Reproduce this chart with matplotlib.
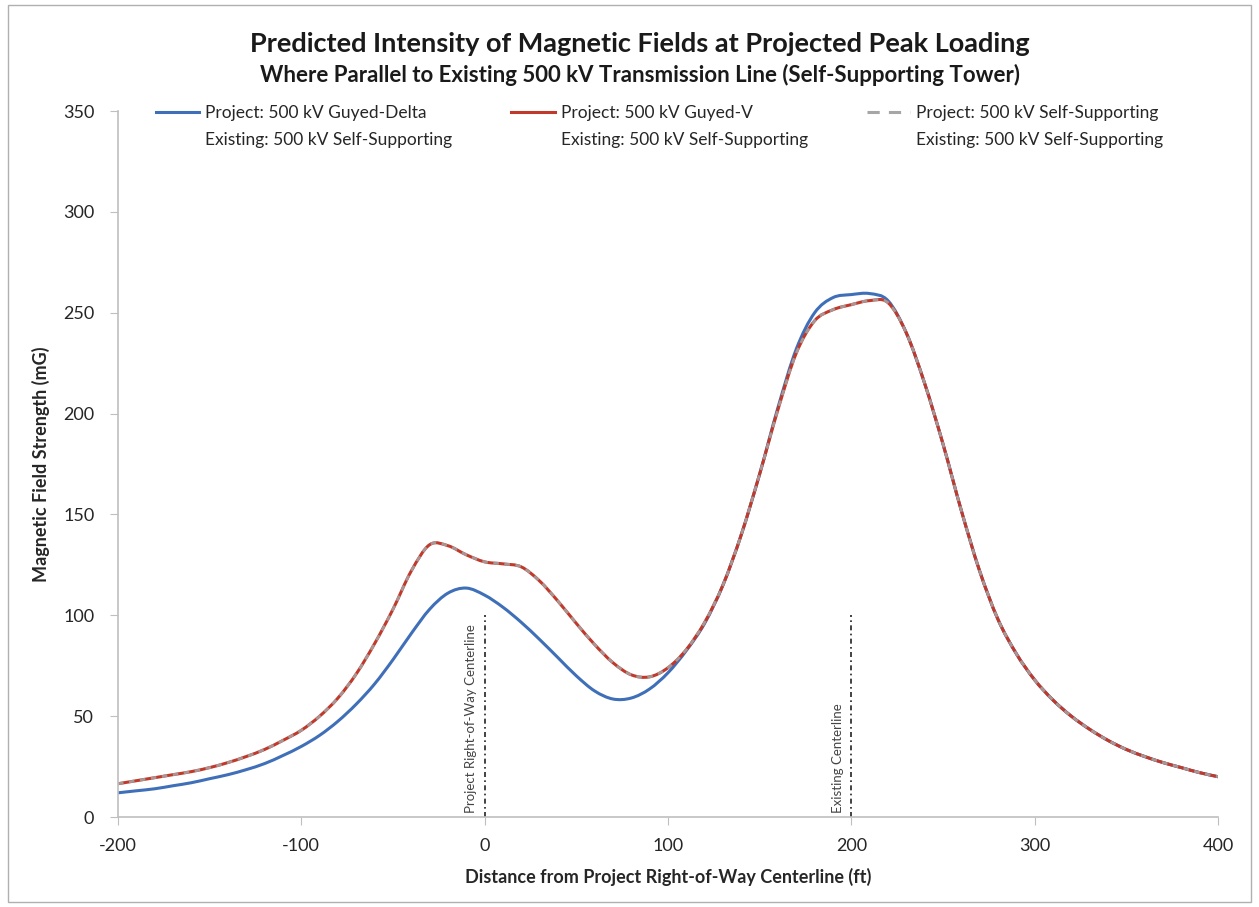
import numpy as np
import matplotlib.pyplot as plt
from matplotlib.lines import Line2D
from matplotlib.patches import Rectangle, PathPatch
from matplotlib.path import Path

plt.rcParams['font.family'] = ['Lato', 'DejaVu Sans']
plt.rcParams['axes.unicode_minus'] = False

# distance from project ROW centerline (ft), 10 ft steps
distance = list(range(-200, 401, 10))

# Project: 500 kV Guyed-Delta
guyed_delta = [12, 13, 14, 15.5, 17, 19, 21, 23.5, 26.5, 30.5,
               35, 40.5, 47.5, 56, 66, 78, 91, 103, 111, 113.5,
               110, 104, 96.5, 88, 79, 70, 62.5, 58.5, 59, 63.5,
               71.5, 82.5, 96, 115, 140, 170, 203, 232, 250, 257.5,
               259, 259.5, 256, 240, 215, 185, 152, 122, 98, 81,
               68, 58, 50, 43.5, 38, 33.5, 30, 27, 24.5, 22,
               20]

# Project: 500 kV Guyed-V
guyed_v = [16.5, 18, 19.5, 21, 22.5, 24.5, 27, 30, 33.5, 38,
           43, 50, 59, 71, 86, 103, 122, 135, 134.5, 130,
           126.5, 125.5, 124, 117, 107, 96, 85.5, 76.5, 70.5, 69.5,
           74, 83, 96.5, 115, 140, 170, 202, 230, 246, 251.5,
           254, 256, 255, 240, 215, 185, 152, 122, 98, 81,
           68, 58, 50, 43.5, 38, 33.5, 30, 27, 24.5, 22,
           20]

# Project: 500 kV Self-Supporting
self_supporting = [16.5, 18, 19.5, 21, 22.5, 24.5, 27, 30, 33.5, 38,
                   43, 50, 59, 71, 86, 103, 122, 135, 134.5, 130,
                   126.5, 125.5, 124, 117, 107, 96, 85.5, 76.5, 70.5, 69.5,
                   74, 83, 96.5, 115, 140, 170, 202, 230, 246, 251.5,
                   254, 256, 255, 240, 215, 185, 152, 122, 98, 81,
                   68, 58, 50, 43.5, 38, 33.5, 30, 27, 24.5, 22,
                   20]

project_labels = ['Project: 500 kV Guyed-Delta',
                  'Project: 500 kV Guyed-V',
                  'Project: 500 kV Self-Supporting']
existing_label = 'Existing: 500 kV Self-Supporting'

# centerline markers: (x position, marker height, label)
centerlines = [(0, 100, 'Project Right-of-Way Centerline'),
               (200, 100, 'Existing Centerline')]


def smooth_path(x, y):
    """Smoothed line through the points (Catmull-Rom as cubic Beziers)."""
    x = np.asarray(x, float)
    y = np.asarray(y, float)
    pts = np.column_stack([x, y])
    verts = [pts[0]]
    codes = [Path.MOVETO]
    n = len(pts)
    for i in range(n - 1):
        p0 = pts[max(i - 1, 0)]
        p1 = pts[i]
        p2 = pts[i + 1]
        p3 = pts[min(i + 2, n - 1)]
        c1 = p1 + (p2 - p0) / 6.0
        c2 = p2 - (p3 - p1) / 6.0
        verts += [c1, c2, p2]
        codes += [Path.CURVE4] * 3
    return Path(verts, codes)


def add_curve(ax, x, y, **kw):
    patch = PathPatch(smooth_path(x, y), fill=False, **kw)
    ax.add_patch(patch)
    return patch


fig = plt.figure(figsize=(12.59, 9.07), dpi=100)
ax = fig.add_axes([0.0937, 0.0992, 0.8737, 0.7784])

blue = '#3f6fb8'
red = '#c0392b'
gray = '#a6a6a6'

add_curve(ax, distance, guyed_delta, edgecolor=blue, lw=2.2, capstyle='round')
add_curve(ax, distance, guyed_v, edgecolor=red, lw=2.2, capstyle='round')
add_curve(ax, distance, self_supporting, edgecolor=gray, lw=2.0,
          linestyle=(0, (2, 2)), alpha=0.85)

for xc, h, txt in centerlines:
    ax.plot([xc, xc], [0, h], color='#222222', lw=1.2, ls=(0, (3, 2, 1, 2)))
    ax.text(xc - 4, 2, txt, rotation=90, ha='right', va='bottom',
            fontsize=9.5, color='#444444')

ax.set_xlim(-200, 400)
ax.set_ylim(0, 350)
ax.set_xticks(range(-200, 401, 100))
ax.set_yticks(range(0, 351, 50))
ax.tick_params(axis='both', labelsize=13, color='#bfbfbf', length=6,
               labelcolor='#262626')
ax.tick_params(axis='x', pad=9)
ax.tick_params(axis='y', pad=11)
for side in ['top', 'right']:
    ax.spines[side].set_visible(False)
for side in ['left', 'bottom']:
    ax.spines[side].set_color('#bfbfbf')
    ax.spines[side].set_linewidth(1.2)

ax.set_xlabel('Distance from Project Right-of-Way Centerline (ft)',
              fontsize=13, fontweight='bold', color='#262626', labelpad=10)
ax.set_ylabel('Magnetic Field Strength (mG)', fontsize=13,
              fontweight='bold', color='#262626', labelpad=9)

fig.text(0.508, 0.951, 'Predicted Intensity of Magnetic Fields at Projected Peak Loading',
         ha='center', va='center', fontsize=19.5, fontweight='bold', color='#1a1a1a')
fig.text(0.508, 0.917, 'Where Parallel to Existing 500 kV Transmission Line (Self-Supporting Tower)',
         ha='center', va='center', fontsize=16, fontweight='bold', color='#1a1a1a')

# legend: project name on first row with line sample, existing line below
handles = [Line2D([], [], color=blue, lw=2.2),
           Line2D([], [], color='none'),
           Line2D([], [], color=red, lw=2.2),
           Line2D([], [], color='none'),
           Line2D([], [], color=gray, lw=2.2, ls=(0, (4, 3))),
           Line2D([], [], color='none')]
labels = [project_labels[0], existing_label,
          project_labels[1], existing_label,
          project_labels[2], existing_label]
ax.legend(handles, labels, ncol=3, loc='upper left',
          bbox_to_anchor=(0.02, 1.03), frameon=False, fontsize=12.5,
          handlelength=2.5, handletextpad=0.35, columnspacing=3.4,
          labelspacing=0.6, labelcolor='#262626')

fig.patches.append(Rectangle((0.006, 0.005), 0.988, 0.99, transform=fig.transFigure,
                             fill=False, edgecolor='#b0b0b0', lw=1))

fig.savefig('out.png', dpi=100)
